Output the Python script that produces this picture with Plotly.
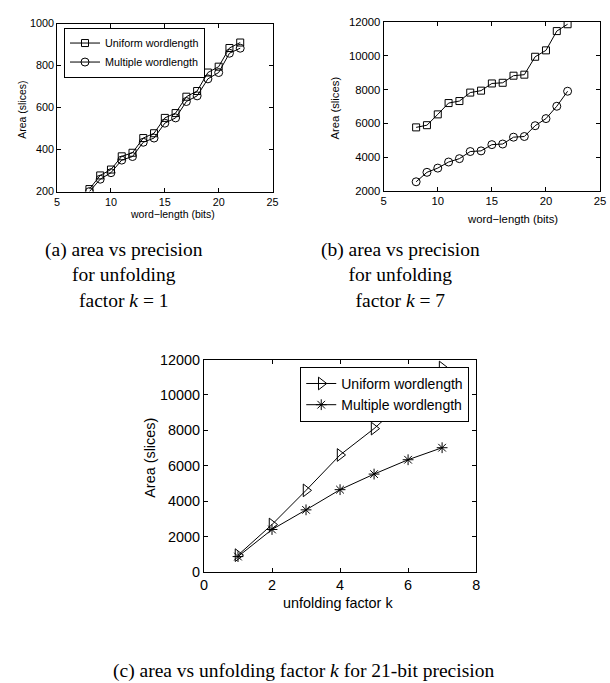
import plotly.graph_objects as go

# ---------------- data ----------------
word_length = [8, 9, 10, 11, 12, 13, 14, 15, 16, 17, 18, 19, 20, 21, 22]
a_uniform = [212, 277, 305, 368, 385, 455, 478, 551, 574, 652, 679, 767, 795, 884, 910]
a_multiple = [200, 259, 290, 350, 367, 435, 455, 526, 551, 629, 656, 737, 767, 859, 883]
b_uniform = [5760, 5890, 6530, 7200, 7320, 7820, 7935, 8360, 8400, 8820, 8880, 9940, 10320, 11460, 11865]
b_multiple = [2540, 3100, 3350, 3710, 3910, 4330, 4370, 4740, 4775, 5180, 5220, 5860, 6280, 7010, 7900]
unfold_k = [1, 2, 3, 4, 5, 6, 7]
c_uniform = [950, 2680, 4610, 6610, 8100, 9800, 11550]
c_multiple = [870, 2400, 3510, 4650, 5530, 6340, 7020]

series_names = ["Uniform wordlength", "Multiple wordlength"]
caption_a = "(a) area vs precision<br>for unfolding<br>factor <i>k</i> = 1"
caption_b = "(b) area vs precision<br>for unfolding<br>factor <i>k</i> = 7"
caption_c = "(c) area vs unfolding factor <i>k</i> for 21-bit precision"

W, H = 610, 683
SANS = "Liberation Sans, Arial, Helvetica, sans-serif"
SERIF = "Liberation Serif, Times New Roman, serif"


def px(x):
    return x / W


def py(y):
    return 1 - y / H


fig = go.Figure()

line = dict(color="black", width=1)

# (a)
fig.add_trace(go.Scatter(x=word_length, y=a_uniform, name=series_names[0], mode="lines+markers",
                         line=line, marker=dict(symbol="square-open", size=7, color="black", line=dict(width=1)),
                         xaxis="x", yaxis="y", legend="legend"))
fig.add_trace(go.Scatter(x=word_length, y=a_multiple, name=series_names[1], mode="lines+markers",
                         line=line, marker=dict(symbol="circle-open", size=8, color="black", line=dict(width=1)),
                         xaxis="x", yaxis="y", legend="legend"))
# (b)
fig.add_trace(go.Scatter(x=word_length, y=b_uniform, name=series_names[0], mode="lines+markers",
                         line=line, marker=dict(symbol="square-open", size=7, color="black", line=dict(width=1)),
                         xaxis="x2", yaxis="y2", showlegend=False))
fig.add_trace(go.Scatter(x=word_length, y=b_multiple, name=series_names[1], mode="lines+markers",
                         line=line, marker=dict(symbol="circle-open", size=8, color="black", line=dict(width=1)),
                         xaxis="x2", yaxis="y2", showlegend=False))
# (c)
fig.add_trace(go.Scatter(x=unfold_k, y=c_uniform, name=series_names[0], mode="lines+markers",
                         line=line, marker=dict(symbol="triangle-right-open", size=11, color="black", line=dict(width=1)),
                         xaxis="x3", yaxis="y3", legend="legend2"))
fig.add_trace(go.Scatter(x=unfold_k, y=c_multiple, name=series_names[1], mode="lines+markers",
                         line=line, marker=dict(symbol="asterisk-open", size=9, color="black", line=dict(width=1)),
                         xaxis="x3", yaxis="y3", legend="legend2"))


def ax(domain, rng, dtick, fs, anchor):
    return dict(domain=domain, range=rng, dtick=dtick, anchor=anchor, tickformat="d",
                showline=True, linecolor="black", linewidth=1, mirror="ticks",
                ticks="inside", ticklen=4, tickcolor="black", tickwidth=1,
                showgrid=False, zeroline=False,
                tickfont=dict(family=SANS, size=fs, color="black"))


fig.update_layout(
    width=W, height=H,
    margin=dict(l=0, r=0, t=0, b=0),
    paper_bgcolor="white", plot_bgcolor="white",
    xaxis=ax([px(54), px(273)], [5, 25], 5, 10.8, "y"),
    yaxis=ax([py(188), py(16)], [200, 1000], 200, 10.8, "x"),
    xaxis2=ax([px(386), px(606)], [5, 25], 5, 11.3, "y2"),
    yaxis2=ax([py(187.3), py(14.3)], [2000, 12000], 2000, 11.3, "x2"),
    xaxis3=ax([px(203.3), px(480)], [0, 8], 2, 14.4, "y3"),
    yaxis3=ax([py(577.5), py(360)], [0, 12000], 2000, 14.4, "x3"),
    legend=dict(x=px(61), y=py(20), xanchor="left", yanchor="top",
                bgcolor="white", bordercolor="black", borderwidth=1,
                font=dict(family=SANS, size=10.8, color="black"),
                itemwidth=30, tracegroupgap=0),
    legend2=dict(x=px(473), y=py(367.5), xanchor="right", yanchor="top",
                 bgcolor="white", bordercolor="black", borderwidth=1,
                 font=dict(family=SANS, size=14, color="black"),
                 itemwidth=30, tracegroupgap=0),
)

annos = [
    # axis labels
    dict(x=px(171), y=py(211), text="word\u2212length (bits)", font=dict(family=SANS, size=10.5)),
    dict(x=px(17.5), y=py(104), text="Area (slices)", textangle=-90, font=dict(family=SANS, size=10.5)),
    dict(x=px(517), y=py(216), text="word\u2212length (bits)", font=dict(family=SANS, size=11.3)),
    dict(x=px(336.5), y=py(102), text="Area (slices)", textangle=-90, font=dict(family=SANS, size=11.3)),
    dict(x=px(340), y=py(609), text="unfolding factor k", font=dict(family=SANS, size=14.4)),
    dict(x=px(149), y=py(461), text="Area (slices)", textangle=-90, font=dict(family=SANS, size=14.4)),
    # captions
    dict(x=px(121.5), y=py(273.5), text=caption_a, font=dict(family=SERIF, size=19.5)),
    dict(x=px(403.5), y=py(273.5), text=caption_b, font=dict(family=SERIF, size=19.5)),
    dict(x=px(304.5), y=py(679), text=caption_c, font=dict(family=SERIF, size=19.5)),
]
for a in annos:
    a.update(xref="paper", yref="paper", showarrow=False, xanchor="center", yanchor="middle")
    a["font"]["color"] = "black"
    fig.add_annotation(**a)

fig.write_html("out.html", config={"displayModeBar": False},
               post_script="document.body.style.margin='0';document.body.style.padding='0';")
